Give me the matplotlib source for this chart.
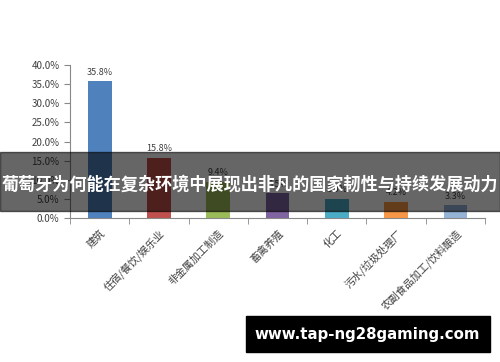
import matplotlib.pyplot as plt
import numpy as np

plt.rcParams['font.family'] = ['Noto Sans CJK SC', 'DejaVu Sans']

categories = ['建筑', '住宿/餐饮/娱乐业', '非金属加工制造', '畜禽养殖',
              '化工', '污水/垃圾处理厂', '农副食品加工/饮料酿造']
values = [35.8, 15.8, 9.4, 6.5, 5.0, 4.2, 3.3]
colors = ['#4f81bd', '#c0504d', '#9bbb59', '#8064a2',
          '#4bacc6', '#f79646', '#95b3d7']
title = '葡萄牙为何能在复杂环境中展现出非凡的国家韧性与持续发展动力'
watermark = 'www.tap-ng28gaming.com'

fig = plt.figure(figsize=(5, 3.62), dpi=100)
ax = fig.add_axes([0.14, 0.398, 0.83, 0.422])

x = np.arange(len(categories))
ax.bar(x, values, width=0.4, color=colors, zorder=2)
for xi, v in zip(x, values):
    ax.text(xi, v + 1.2, '{:.1f}%'.format(v), ha='center', va='bottom',
            fontsize=6.5, color='#404040')

ax.set_xlim(-0.5, len(categories) - 0.5)
ax.set_ylim(0, 40)
yt = np.arange(0, 41, 5)
ax.set_yticks(yt)
ax.set_yticklabels(['{:.1f}%'.format(t) for t in yt], fontsize=7, color='#404040')
ax.set_xticks(x)
ax.set_xticklabels(categories, rotation=45, ha='right', rotation_mode='anchor',
                   fontsize=7.5, color='#404040')
ax.tick_params(axis='x', length=0, pad=7)
ax.set_xticks(np.arange(-0.5, len(categories)), minor=True)
ax.tick_params(axis='x', which='minor', length=4, color='#888888')
ax.tick_params(axis='y', length=4, color='#888888')
for s in ['top', 'right']:
    ax.spines[s].set_visible(False)
for s in ['left', 'bottom']:
    ax.spines[s].set_color('#888888')

# dark overlay band with title
fig.patches.append(plt.Rectangle((0, 1 - 211 / 362), 1, 59 / 362,
                                 transform=fig.transFigure, color='black',
                                 alpha=0.6, zorder=5))
fig.text(0.5, 1 - 185 / 362, title, ha='center', va='center', color='white',
         fontsize=12.3, fontweight='bold', zorder=6)

# watermark box
fig.patches.append(plt.Rectangle((246 / 500, 1 - 352 / 362), 244 / 500, 36 / 362,
                                 transform=fig.transFigure, color='black', zorder=5))
fig.text(367 / 500, 1 - 334 / 362, watermark, ha='center', va='center',
         color='white', fontsize=10.8, fontweight='bold', zorder=6,
         family='DejaVu Sans')

fig.savefig('out.png', dpi=100)
